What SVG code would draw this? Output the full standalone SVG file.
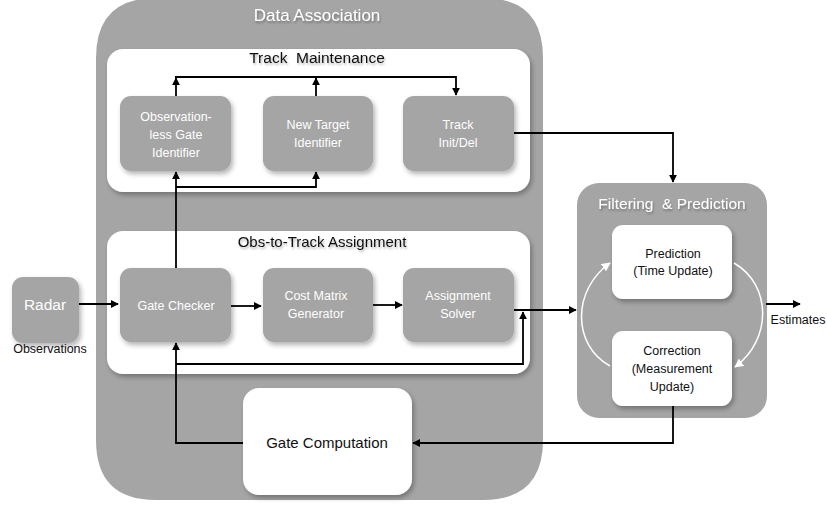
<svg xmlns="http://www.w3.org/2000/svg" width="827" height="512" viewBox="0 0 827 512">
  <style>
    .panel { fill: #a5a5a5; }
    .box { fill: #ffffff; }
    .node { fill: #a5a5a5; }
    .wnode { fill: #ffffff; }
    .t { font-family: "Liberation Sans", Arial, sans-serif; text-anchor: middle; }
    .tw { fill: #ffffff; font-size: 12.5px; }
    .tb { fill: #111111; font-size: 12.5px; }
    .title { font-size: 15.5px; }
    .wire { fill: none; stroke: #000; stroke-width: 1.8; }
    .arc { fill: none; stroke: #ffffff; stroke-width: 1.5; }
  </style>
  <defs>
    <marker id="ah" viewBox="0 0 10 10" refX="9" refY="5" markerWidth="4.5" markerHeight="4.5" orient="auto" markerUnits="strokeWidth">
      <path d="M0,0 L10,5 L0,10 z" fill="#000"/>
    </marker>
    <marker id="ahw" viewBox="0 0 10 10" refX="9" refY="5" markerWidth="6" markerHeight="6" orient="auto" markerUnits="strokeWidth">
      <path d="M0,0 L10,5 L0,10 z" fill="#fff"/>
    </marker>
    <filter id="sh" x="-20%" y="-20%" width="150%" height="150%">
      <feGaussianBlur in="SourceAlpha" stdDeviation="2.5"/>
      <feOffset dx="2" dy="3" result="b"/>
      <feComponentTransfer><feFuncA type="linear" slope="0.3"/></feComponentTransfer>
      <feMerge><feMergeNode/><feMergeNode in="SourceGraphic"/></feMerge>
    </filter>
    <filter id="tsh" x="-10%" y="-30%" width="120%" height="160%">
      <feGaussianBlur in="SourceAlpha" stdDeviation="1.2"/>
      <feOffset dx="1" dy="1.5"/>
      <feComponentTransfer><feFuncA type="linear" slope="0.3"/></feComponentTransfer>
      <feMerge><feMergeNode/><feMergeNode in="SourceGraphic"/></feMerge>
    </filter>
  </defs>

  <rect width="827" height="512" fill="#ffffff"/>

  <!-- Data Association panel -->
  <g id="data-association">
    <path class="panel" d="M156,-2 H483 Q543,-2 543,58 V440 Q543,500 483,500 H156 Q96,500 96,440 V58 Q96,-2 156,-2 Z"/>
    <text class="t" x="317" y="21" font-size="17" fill="#ffffff" filter="url(#tsh)">Data Association</text>
  </g>

  <!-- Track Maintenance -->
  <g id="track-maintenance">
    <rect class="box" x="107" y="49" width="423" height="143" rx="16" filter="url(#sh)"/>
    <text class="t title" x="317" y="63" fill="#111" filter="url(#tsh)" xml:space="preserve">Track  Maintenance</text>
  </g>
  <g id="obsless-gate">
    <rect class="node" x="120" y="96" width="111" height="75" rx="11" filter="url(#sh)"/>
    <text class="t tw" x="176" y="121">Observation-</text>
    <text class="t tw" x="176" y="139">less Gate</text>
    <text class="t tw" x="176" y="157">Identifier</text>
  </g>
  <g id="new-target">
    <rect class="node" x="263" y="96" width="110" height="75" rx="11" filter="url(#sh)"/>
    <text class="t tw" x="318" y="129">New Target</text>
    <text class="t tw" x="318" y="147">Identifier</text>
  </g>
  <g id="track-init">
    <rect class="node" x="403" y="96" width="111" height="75" rx="11" filter="url(#sh)"/>
    <text class="t tw" x="458" y="129">Track</text>
    <text class="t tw" x="458" y="147">Init/Del</text>
  </g>

  <!-- Obs-to-Track Assignment -->
  <g id="obs-to-track">
    <rect class="box" x="107" y="231" width="423" height="143" rx="16" filter="url(#sh)"/>
    <text class="t" x="322" y="247" font-size="15" fill="#111" filter="url(#tsh)">Obs-to-Track Assignment</text>
  </g>
  <g id="gate-checker">
    <rect class="node" x="120" y="268" width="111" height="74" rx="11" filter="url(#sh)"/>
    <text class="t tw" x="176" y="310">Gate Checker</text>
  </g>
  <g id="cost-matrix">
    <rect class="node" x="263" y="268" width="110" height="74" rx="11" filter="url(#sh)"/>
    <text class="t tw" x="316" y="300">Cost Matrix</text>
    <text class="t tw" x="316" y="318">Generator</text>
  </g>
  <g id="assignment-solver">
    <rect class="node" x="403" y="268" width="111" height="74" rx="11" filter="url(#sh)"/>
    <text class="t tw" x="458" y="300">Assignment</text>
    <text class="t tw" x="458" y="318">Solver</text>
  </g>

  <!-- Gate Computation -->
  <g id="gate-computation">
    <rect class="wnode" x="243" y="388" width="169" height="107" rx="16" filter="url(#sh)"/>
    <text class="t" x="327" y="448" fill="#111" font-size="15">Gate Computation</text>
  </g>

  <!-- Radar -->
  <g id="radar">
    <rect class="node" x="12" y="277" width="67" height="66" rx="11" filter="url(#sh)"/>
    <text class="t" x="45" y="310" fill="#fff" font-size="15.5">Radar</text>
    <text class="t tb" x="50" y="353">Observations</text>
  </g>

  <!-- Filtering & Prediction -->
  <g id="filtering-prediction">
    <rect class="panel" x="577" y="183" width="190" height="235" rx="22"/>
    <text class="t title" x="672" y="209" fill="#fff" filter="url(#tsh)" xml:space="preserve">Filtering  &amp; Prediction</text>
  </g>
  <g id="prediction">
    <rect class="wnode" x="612" y="225" width="120" height="74" rx="11" filter="url(#sh)"/>
    <text class="t tb" x="673" y="258">Prediction</text>
    <text class="t tb" x="673" y="275">(Time Update)</text>
  </g>
  <g id="correction">
    <rect class="wnode" x="612" y="331" width="120" height="75" rx="11" filter="url(#sh)"/>
    <text class="t tb" x="672" y="355">Correction</text>
    <text class="t tb" x="672" y="373">(Measurement</text>
    <text class="t tb" x="672" y="391">Update)</text>
  </g>

  <g id="estimates">
    <text class="t tb" x="798" y="324">Estimates</text>
  </g>

  <!-- Connectors -->
  <g id="connectors">
    <!-- Track Maintenance bus -->
    <path class="wire" d="M176,96 V78" marker-end="url(#ah)"/>
    <path class="wire" d="M316,96 V78" marker-end="url(#ah)"/>
    <path class="wire" d="M175,77 H456 V95" marker-end="url(#ah)"/>
    <!-- Gate Checker up to identifiers -->
    <path class="wire" d="M176,268 V172" marker-end="url(#ah)"/>
    <path class="wire" d="M176,187 H316 V172" marker-end="url(#ah)"/>
    <!-- Track Init/Del to Filtering -->
    <path class="wire" d="M514,133 H673 V182" marker-end="url(#ah)"/>
    <!-- Assignment chain -->
    <path class="wire" d="M231,306 H261" marker-end="url(#ah)"/>
    <path class="wire" d="M373,305 H402" marker-end="url(#ah)"/>
    <path class="wire" d="M514,310 H576" marker-end="url(#ah)"/>
    <!-- Radar to Gate Checker -->
    <path class="wire" d="M79,304 H118" marker-end="url(#ah)"/>
    <!-- Gate Computation to Gate Checker and Assignment Solver -->
    <path class="wire" d="M243,443 H176 V343" marker-end="url(#ah)"/>
    <path class="wire" d="M176,364 H523 V312" marker-end="url(#ah)"/>
    <!-- Correction to Gate Computation -->
    <path class="wire" d="M673,406 V443 H413" marker-end="url(#ah)"/>
    <!-- Estimates -->
    <path class="wire" d="M766,304 H800" marker-end="url(#ah)"/>
    <!-- Filter loop -->
    <path class="arc" d="M610,366 C572,345 572,290 610,263" marker-end="url(#ahw)"/>
    <path class="arc" d="M734,263 C772,285 772,340 735,367" marker-end="url(#ahw)"/>
  </g>
</svg>
